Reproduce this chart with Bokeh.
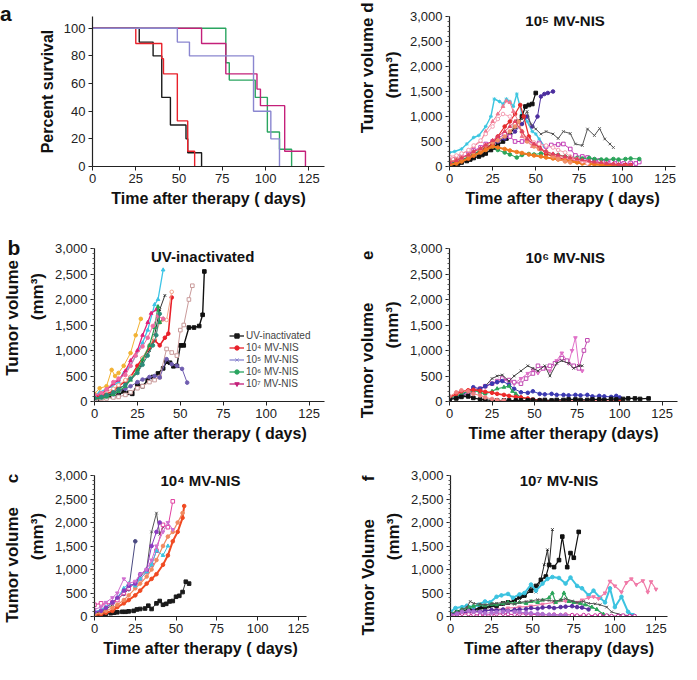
import math
from bokeh.plotting import figure
from bokeh.layouts import column, row
from bokeh.models import (Range1d, FixedTicker, NumeralTickFormatter, Label,
                          Legend, LegendItem, ColumnDataSource)
from bokeh.embed import file_html
from bokeh.resources import INLINE

FONT = "Liberation Sans"

# ---------------- panel a : survival ----------------
surv_groups = ["UV-inactivated", "10⁴ MV-NIS", "10⁵ MV-NIS", "10⁶ MV-NIS", "10⁷ MV-NIS"]
surv_colors = ["#1a1a1a", "#e8202a", "#8a86d0", "#2aa560", "#c4207a"]
surv_days = [
    [0, 27, 35, 40, 45, 54, 55, 63],
    [0, 25, 40, 41, 49, 55, 59],
    [0, 49, 56, 93, 103, 108],
    [0, 77, 79, 94, 101, 108, 115],
    [0, 63, 77, 95, 97, 111, 123],
]
surv_pct = [
    [100, 90, 80, 50, 30, 20, 10, 0],
    [100, 89, 78, 67, 33, 11, 0],
    [100, 90, 80, 40, 20, 0],
    [100, 75, 62.5, 50, 25, 12.5, 0],
    [100, 89, 67, 56, 44, 11, 0],
]
surv_order = [0, 1, 3, 4, 2]

# ---------------- panel b : UV-inactivated ----------------
b_days = [
    [0, 3, 7, 10, 14, 17, 20, 22, 25, 28, 31, 34, 37, 40, 42, 44, 46, 48, 50, 52, 55, 58, 61, 63, 64],
    [0, 3, 7, 10, 14, 17, 21, 24, 28, 31, 35, 37, 40],
    [0, 4, 7, 11, 14, 18, 21, 25, 28, 32, 35, 38, 41],
    [0, 4, 7, 11, 14, 18, 21, 25, 28, 32, 35, 38, 41, 43, 45],
    [0, 4, 7, 11, 14, 18, 21, 25, 28, 32, 35, 38, 42, 45],
    [0, 3, 7, 10, 12, 14, 17, 21, 24, 27],
    [0, 4, 7, 11, 14, 18, 21, 25, 28, 32, 35, 38, 42, 45, 48, 50, 52, 55, 57],
    [0, 4, 7, 11, 14, 18, 21, 25, 28, 32, 35, 38, 42, 45, 48, 51, 54],
    [0, 4, 7, 11, 14, 18, 21, 25, 28, 31, 33, 36],
    [0, 4, 7, 11, 14, 18, 21, 25, 28, 32, 35, 37, 38, 40],
    [0, 4, 7, 11, 14, 18, 21, 24, 28, 31, 34, 37, 40],
    [0, 4, 7, 11, 14, 18, 21, 25, 28, 31, 34, 36, 38],
]
b_vols = [
    [50, 60, 80, 110, 120, 200, 170, 150, 330, 300, 420, 480, 550, 650, 780, 760, 690, 700, 1100, 1100, 1450, 1450, 1480, 1700, 2550],
    [120, 180, 250, 300, 380, 550, 700, 900, 1150, 1400, 1900, 2000, 2580],
    [60, 90, 110, 160, 250, 330, 420, 560, 780, 1000, 1300, 1800, 2080],
    [80, 110, 150, 200, 300, 400, 480, 700, 850, 1050, 1200, 1100, 1250, 1330, 2040],
    [100, 150, 200, 250, 320, 420, 480, 600, 850, 1100, 1250, 1550, 1600, 2150],
    [150, 260, 300, 620, 500, 560, 700, 950, 1300, 1620],
    [40, 50, 60, 80, 90, 130, 180, 260, 300, 380, 420, 480, 1030, 960, 900, 1400, 1500, 2000, 2270],
    [60, 80, 100, 140, 200, 250, 300, 380, 430, 480, 500, 470, 830, 730, 700, 640, 370],
    [100, 150, 230, 350, 420, 600, 800, 1000, 1300, 1550, 1730, 1800],
    [60, 70, 90, 140, 200, 300, 420, 620, 820, 1100, 1450, 1860, 1550, 1620],
    [130, 160, 240, 380, 450, 520, 700, 900, 1080, 1250, 1480, 1680, 1620],
    [70, 90, 130, 180, 240, 330, 450, 560, 720, 900, 1100, 1300, 1720],
]
b_colors = ["#111111", "#3cc4e6", "#333333", "#e8202a", "#f2a58a", "#f2b233",
            "#c99a9a", "#6f5db0", "#e0207a", "#22a050", "#f06aa0", "#2a8c7a"]
b_markers = ["sq", "tri", "x", "ci", "oci", "ci", "osq", "ci", "tri", "tri", "ci", "ci"]
b_widths = [1.4, 1.3, 1.0, 1.6, 1.0, 1.0, 1.0, 1.0, 1.3, 1.2, 1.0, 1.0]

# ---------------- panel c : 10^4 MV-NIS ----------------
c_days = [
    [0, 3, 5, 7, 10, 12, 14, 17, 19, 21, 24, 26, 28, 31, 33, 35, 38, 40, 42, 44, 46, 48, 50, 52, 54, 56, 58],
    [0, 4, 7, 11, 14, 18, 21, 25],
    [0, 4, 7, 11, 14, 18, 21, 25, 28, 32, 35, 38, 40, 42],
    [0, 4, 7, 11, 14, 18, 21, 25, 28, 32, 35, 38, 42, 45, 48],
    [0, 4, 7, 11, 14, 18, 21, 25, 28, 32, 35, 38, 42, 45, 48, 51, 54, 55],
    [0, 4, 7, 11, 14, 18, 21, 25, 28, 32, 35, 38, 42, 45, 48, 51, 54],
    [0, 4, 7, 11, 14, 18, 21, 25, 28, 32, 35, 38, 42, 45],
    [0, 4, 7, 11, 14, 18, 21, 25, 28, 32, 35, 38, 40],
    [0, 4, 7, 11, 14, 18, 21, 25, 28, 32, 35, 38, 42, 45, 48],
]
c_vols = [
    [40, 50, 60, 60, 70, 80, 90, 100, 100, 110, 120, 150, 160, 170, 230, 160, 280, 330, 250, 270, 320, 330, 420, 440, 520, 740, 700],
    [80, 130, 180, 300, 380, 480, 580, 1600],
    [60, 100, 150, 250, 350, 500, 650, 700, 850, 1000, 1800, 2200, 1750, 1900],
    [250, 280, 250, 300, 350, 500, 600, 700, 800, 950, 1100, 1400, 1950, 1900, 2450],
    [30, 50, 80, 120, 200, 280, 350, 450, 550, 700, 800, 900, 1100, 1300, 1600, 1800, 2100, 2350],
    [50, 80, 120, 180, 250, 350, 450, 600, 700, 850, 1000, 1200, 1500, 1700, 1800, 2000, 2200],
    [100, 150, 200, 300, 400, 600, 700, 650, 800, 950, 1100, 1400, 1300, 1500],
    [100, 120, 180, 300, 400, 550, 650, 700, 900, 1000, 1500, 1800, 2000],
    [150, 200, 300, 400, 500, 800, 700, 750, 900, 1000, 1200, 1500, 1800, 2000, 1850],
]
c_colors = ["#1a1a1a", "#4a4a80", "#555555", "#e040a0", "#f04a22", "#f08a60",
            "#3cc4e0", "#8a3ac0", "#d070d0"]
c_markers = ["sq", "ci", "x", "osq", "ci", "ci", "tri", "ci", "itri"]
c_widths = [0.9, 1.0, 1.0, 1.0, 2.0, 1.2, 1.0, 1.0, 1.0]

# ---------------- panel d : 10^5 MV-NIS ----------------
d_days = [
    [0, 3, 7, 10, 14, 17, 21, 24, 26, 29, 31, 33, 35, 37, 39, 42, 45, 48, 50, 52, 55],
    [0, 3, 5, 7, 10, 12, 14, 17, 19, 21, 24, 26, 28, 31, 33, 35, 38, 40, 42, 44, 46, 48, 50],
    [0, 4, 7, 11, 14, 18, 21, 25, 28, 32, 35, 38, 42, 45, 48, 51, 53, 55, 57, 60],
    [0, 4, 7, 11, 14, 18, 21, 25, 28, 32, 35, 38, 42, 45, 47, 50, 53, 56, 60, 63, 66, 70, 73, 77, 80, 84, 87, 90, 93, 95],
    [0, 4, 7, 11, 14, 18, 21, 25, 28, 32, 35, 38, 42, 45, 49, 52, 56, 59, 63, 66, 70, 73, 77, 80, 84, 87, 91, 94, 98, 101, 105, 108, 110],
    [0, 4, 7, 11, 14, 18, 21, 25, 28, 32, 35, 39, 42, 46, 49, 53, 56, 60, 63, 67, 70, 74, 77, 81, 84, 88, 91, 95, 98, 102, 105, 110],
    [0, 4, 7, 11, 14, 18, 21, 25, 28, 32, 35, 38, 41, 43, 46, 49, 52, 56, 60, 63, 67, 70, 74, 77, 81, 84, 88, 91, 95, 98, 102, 105],
    [0, 4, 7, 11, 14, 18, 21, 25, 28, 31, 33, 35, 37, 40, 42, 45, 48, 52, 56, 60, 63, 67, 70, 74, 77, 81, 84, 88],
    [0, 4, 7, 11, 14, 18, 21, 25, 28, 32, 35, 39, 42, 46, 49, 53, 56, 60, 63, 67, 70, 74, 77, 81, 84, 88, 91, 95, 98, 102],
    [0, 4, 7, 11, 14, 18, 21, 25, 28, 31, 35, 38, 42, 45, 49, 52, 56, 60, 63, 67, 70, 74, 77, 80],
    [0, 4, 7, 11, 14, 18, 21, 25, 28, 32, 35, 38, 40, 42, 45, 49, 52, 56, 60, 63, 67, 70],
    [0, 4, 7, 11, 14, 18, 21, 25, 28, 32, 35, 38, 42, 45, 49, 53, 56, 60, 63, 67, 70, 74, 77, 81, 84, 88, 91, 95, 98, 101, 105],
]
d_vols = [
    [280, 300, 350, 450, 580, 620, 800, 1000, 1350, 1300, 1250, 1350, 1300, 1200, 1450, 1050, 900, 700, 650, 550, 400],
    [20, 40, 60, 80, 110, 140, 170, 200, 230, 260, 330, 380, 430, 500, 560, 640, 800, 900, 1000, 1200, 1230, 1250, 1470],
    [50, 80, 120, 180, 250, 320, 380, 440, 500, 560, 600, 700, 850, 1000, 800, 1000, 1400, 1450, 1470, 1500],
    [60, 90, 130, 180, 240, 310, 380, 450, 520, 600, 700, 800, 950, 1100, 850, 750, 650, 700, 650, 560, 700, 660, 450, 420, 750, 620, 760, 550, 450, 380],
    [100, 130, 180, 250, 320, 380, 450, 500, 560, 650, 600, 500, 500, 520, 450, 470, 400, 430, 440, 450, 350, 220, 200, 180, 130, 120, 110, 100, 90, 60, 70, 60, 90],
    [50, 90, 130, 200, 260, 320, 370, 400, 330, 280, 240, 180, 230, 250, 240, 260, 250, 240, 230, 200, 190, 170, 160, 170, 150, 140, 140, 150, 140, 150, 160, 150],
    [40, 70, 110, 160, 220, 290, 360, 450, 600, 800, 900, 1050, 1230, 1000, 600, 450, 400, 250, 200, 180, 140, 120, 110, 100, 80, 60, 50, 40, 40, 30, 30, 30],
    [150, 200, 250, 320, 400, 500, 700, 900, 1050, 1200, 1310, 1280, 1100, 900, 600, 500, 400, 350, 300, 250, 200, 180, 150, 120, 100, 80, 60, 50],
    [30, 60, 100, 160, 220, 280, 330, 400, 380, 350, 320, 290, 270, 240, 220, 200, 180, 160, 140, 120, 100, 80, 60, 50, 40, 30, 20, 20, 10, 10],
    [200, 220, 260, 330, 420, 520, 650, 800, 950, 1050, 1000, 850, 700, 550, 480, 450, 420, 380, 330, 280, 200, 150, 100, 60],
    [100, 130, 170, 230, 290, 350, 420, 480, 520, 600, 700, 800, 900, 700, 500, 400, 350, 300, 200, 150, 100, 80],
    [80, 120, 170, 230, 300, 360, 430, 520, 600, 700, 800, 900, 700, 550, 450, 350, 300, 250, 230, 200, 180, 150, 130, 110, 90, 80, 60, 50, 40, 30, 30],
]
d_colors = ["#3cc6e0", "#111111", "#4b2d9e", "#555555", "#c23ab4", "#2aa55a",
            "#e52a2a", "#f07890", "#f07a22", "#f5a0b4", "#f0906a", "#e04060"]
d_markers = ["star", "sq", "ci", "x", "osq", "ci", "ci", "tri", "ci", "oci", "ci", "tri"]
d_widths = [1.4, 1.2, 1.0, 1.0, 1.0, 1.0, 1.2, 1.0, 2.0, 1.0, 1.0, 1.0]

# ---------------- panel e : 10^6 MV-NIS ----------------
e_days = [
    [0, 4, 7, 11, 14, 18, 21, 25, 28, 32, 35, 38, 42, 46, 49, 52, 56, 59, 63, 66, 70, 72, 74, 76, 78],
    [0, 4, 7, 11, 14, 18, 21, 25, 28, 31, 35, 38, 42, 45, 49, 52, 55, 59, 62, 66, 69, 73, 76, 79, 81],
    [0, 4, 7, 11, 14, 18, 21, 25, 28, 31, 35, 38, 42, 46, 49, 52, 56, 59, 63, 66, 70, 73, 76, 78],
    [0, 4, 7, 11, 14, 18, 21, 25, 28, 31, 35, 38, 42, 46, 49, 53, 56, 60, 63, 67, 70, 74, 77, 81, 84, 88, 91, 95, 98, 100],
    [0, 4, 7, 11, 14, 18, 21, 25, 28, 32, 35, 37, 39, 42, 46, 49, 53, 56, 60],
    [0, 4, 7, 11, 14, 18, 21, 25, 28, 32, 35, 39, 42, 46, 49, 53, 56, 60, 63, 67, 70, 74, 77, 81, 84, 88, 91, 95, 98, 100],
    [0, 4, 7, 11, 14, 18, 21, 25, 28, 32, 35, 39, 42, 46, 49, 53, 56, 60, 63, 67, 70, 74, 77, 81, 84, 88, 91, 95, 98, 102, 105, 109, 112, 117],
    [0, 4, 7, 11, 14, 18, 21, 25, 28, 32],
]
e_vols = [
    [60, 100, 150, 200, 230, 260, 300, 350, 380, 420, 400, 350, 450, 550, 620, 560, 650, 600, 800, 950, 750, 1000, 1250, 700, 600],
    [50, 80, 120, 160, 200, 250, 300, 350, 400, 450, 420, 380, 350, 450, 550, 700, 650, 700, 750, 850, 800, 700, 650, 1000, 1200],
    [40, 70, 100, 140, 200, 250, 300, 450, 500, 520, 400, 500, 600, 700, 650, 600, 700, 500, 750, 800, 750, 650, 700, 700],
    [50, 80, 120, 200, 280, 250, 300, 350, 380, 400, 330, 250, 180, 170, 200, 150, 140, 150, 130, 130, 120, 130, 120, 130, 100, 110, 100, 90, 110, 80],
    [70, 100, 150, 200, 220, 180, 150, 200, 250, 280, 300, 200, 150, 80, 50, 30, 20, 10, 10],
    [80, 150, 200, 220, 230, 210, 190, 170, 150, 130, 110, 90, 80, 60, 40, 30, 20, 10, 10, 5, 5, 5, 5, 5, 5, 5, 5, 5, 5, 5],
    [40, 60, 90, 100, 70, 40, 30, 20, 20, 20, 20, 20, 20, 20, 30, 20, 30, 20, 30, 30, 40, 40, 30, 30, 40, 40, 30, 50, 40, 50, 60, 60, 50, 60],
    [100, 180, 220, 200, 150, 120, 80, 50, 30, 20],
]
e_colors = ["#e070c8", "#c047b0", "#444444", "#3a38b0", "#2aa55a", "#ee2a2a", "#111111", "#f08080"]
e_markers = ["itri", "osq", "x", "ci", "tri", "ci", "sq", "ci"]
e_widths = [1.0, 1.0, 1.0, 1.0, 1.2, 1.6, 1.2, 1.0]

# ---------------- panel f : 10^7 MV-NIS ----------------
f_days = [
    [0, 3, 7, 10, 14, 17, 21, 24, 28, 31, 35, 38, 42, 45, 49, 52, 55, 57, 59, 60, 62],
    [0, 4, 7, 11, 14, 18, 21, 25, 28, 32, 35, 39, 42, 45, 49, 52, 55, 58, 60, 63, 66, 68, 71, 73, 75, 78],
    [0, 3, 7, 10, 14, 17, 21, 24, 28, 31, 35, 38, 42, 45, 49, 52, 56, 59, 62, 66, 70, 73, 77, 80, 84, 87, 91, 94, 97, 100, 104, 108, 111],
    [0, 7, 14, 21, 28, 35, 42, 49, 56, 63, 70, 77, 80, 84, 87, 90, 94, 97, 100, 104, 107, 110, 113, 117, 120, 122, 125],
    [0, 4, 7, 11, 14, 18, 21, 25, 28, 32, 35, 39, 42, 46, 49, 53, 56, 60, 62, 64, 67, 69, 72, 75, 79, 82, 86, 89, 93, 96],
    [0, 4, 7, 10, 12, 14, 18, 21, 25, 28, 32, 35, 39, 42, 46, 49, 53, 56, 60, 63, 67, 70, 74, 77, 81, 84, 88, 91, 95, 98, 102, 105, 109, 112],
    [0, 4, 7, 11, 14, 18, 21, 25, 28, 32, 35, 39, 42, 46, 49, 53, 56, 60, 63, 67, 70, 74, 77, 80, 84],
    [0, 4, 7, 11, 14, 18, 21, 25, 28, 32, 35, 39, 42, 46, 49, 53, 56, 60, 63, 67, 70, 74, 77, 81, 84, 88, 91, 95, 98, 102, 105, 109, 112],
    [0, 4, 7, 11, 14, 18, 21, 25, 28, 32, 35, 39, 42, 46, 49, 53, 56, 60, 63, 67, 70],
]
f_vols = [
    [50, 80, 120, 100, 130, 150, 180, 200, 220, 250, 280, 330, 380, 420, 640, 520, 790, 1100, 1420, 1070, 1850],
    [60, 90, 120, 150, 130, 200, 180, 250, 230, 280, 300, 350, 420, 450, 550, 650, 780, 850, 1100, 1050, 1200, 1700, 1050, 1350, 1250, 1800],
    [100, 180, 200, 230, 200, 250, 320, 300, 420, 450, 480, 400, 470, 500, 680, 550, 700, 800, 840, 820, 700, 830, 650, 600, 450, 550, 400, 300, 600, 200, 420, 100, 30],
    [60, 80, 100, 120, 150, 180, 200, 220, 260, 300, 330, 300, 350, 400, 420, 380, 500, 750, 650, 520, 720, 800, 680, 760, 520, 740, 580],
    [60, 100, 150, 200, 220, 250, 230, 260, 250, 280, 300, 280, 300, 280, 320, 300, 350, 400, 500, 300, 350, 500, 320, 300, 280, 250, 200, 150, 50, 10],
    [50, 80, 150, 200, 320, 280, 260, 250, 270, 280, 300, 280, 260, 300, 320, 330, 360, 350, 340, 330, 350, 380, 330, 300, 320, 280, 270, 250, 200, 100, 50, 30, 20, 10],
    [40, 60, 80, 100, 120, 100, 120, 140, 130, 150, 120, 140, 150, 160, 180, 170, 190, 200, 180, 200, 210, 220, 200, 190, 150],
    [20, 40, 60, 50, 40, 30, 30, 40, 50, 60, 50, 40, 50, 60, 50, 40, 40, 30, 40, 30, 40, 30, 20, 30, 20, 20, 30, 20, 10, 10, 20, 10, 10],
    [30, 60, 100, 120, 100, 90, 70, 80, 90, 100, 110, 100, 90, 80, 70, 60, 50, 40, 30, 30, 20],
]
f_colors = ["#222222", "#111111", "#3cc3e0", "#f07aa8", "#2aa55a", "#555555", "#5a2ea0", "#c8289a", "#b070d0"]
f_markers = ["x", "sq", "ci", "itri", "tri", "x", "ci", "oci", "ci"]
f_widths = [1.0, 1.2, 2.0, 1.2, 1.2, 1.0, 1.2, 1.0, 1.0]

legend_labels = surv_groups
legend_colors = surv_colors
legend_markers = ["sq", "ci", "x", "ci", "itri"]

x_ticks = [0, 25, 50, 75, 100, 125]
vol_ticks = [0, 500, 1000, 1500, 2000, 2500, 3000]
pct_ticks = [0, 20, 40, 60, 80, 100]

MARKER_MAP = {"sq": ("square", True), "osq": ("square", False), "ci": ("circle", True),
              "oci": ("circle", False), "tri": ("triangle", True), "itri": ("inverted_triangle", True),
              "x": ("x", True), "star": ("asterisk", True)}

NB = "\u00a0"


def ylab(pad1, pad2, letter="", gap=0, trail=0, word="Tumor volume"):
    return (NB * pad1 + word + NB * gap + letter + NB * trail + "\n" + NB * pad2 + "(mm³)")


def make_fig(width, height, bl, br, bt, bb, xmax, ymax, yticks, ylabel, minor, xlabel):
    p = figure(width=width, height=height, output_backend="svg", toolbar_location=None,
               x_range=Range1d(0, xmax), y_range=Range1d(0, ymax),
               min_border_left=bl, min_border_right=br, min_border_top=bt, min_border_bottom=bb)
    p.outline_line_color = None
    p.xgrid.visible = False
    p.ygrid.visible = False
    p.xaxis.ticker = FixedTicker(ticks=x_ticks)
    if minor:
        p.yaxis.ticker = FixedTicker(ticks=yticks, minor_ticks=list(range(0, 3001, 100)))
        p.yaxis.formatter = NumeralTickFormatter(format="0,0")
    else:
        p.yaxis.ticker = FixedTicker(ticks=yticks)
    for ax in (p.xaxis[0], p.yaxis[0]):
        ax.axis_line_color = "#222222"
        ax.axis_line_width = 1.2
        ax.major_tick_line_color = "#222222"
        ax.major_tick_in = 0
        ax.major_tick_out = 4
        ax.minor_tick_in = 0
        ax.minor_tick_out = 2
        ax.minor_tick_line_color = "#555555"
        ax.major_label_text_font = FONT
        ax.major_label_text_font_size = "13px"
        ax.major_label_text_color = "#222222"
        ax.major_label_standoff = 3
        ax.axis_label_text_font = FONT
        ax.axis_label_text_font_style = "bold"
        ax.axis_label_text_color = "#111111"
    p.xaxis.minor_tick_line_color = None
    if not minor:
        p.yaxis.minor_tick_line_color = None
    p.xaxis.axis_label = xlabel
    p.xaxis.axis_label_text_font_size = "16px"
    p.xaxis.axis_label_standoff = 4
    p.yaxis.axis_label = ylabel
    p.yaxis.axis_label_text_font_size = "17px" if minor else "16px"
    p.yaxis.axis_label_text_line_height = 1.3
    p.yaxis.axis_label_standoff = 5
    return p


def add_letter(p, txt, x, y, side):
    p.add_layout(Label(x=x, y=y, text=txt, text_font=FONT, text_font_style="bold",
                       text_font_size="21px", text_align="center", text_baseline="middle",
                       text_color="#111111"), side)


def add_title(p, txt, x, y):
    p.add_layout(Label(x=x, y=y, text=txt, text_font=FONT, text_font_style="bold",
                       text_font_size="15px", text_align="center", text_baseline="middle",
                       text_color="#111111"))


def draw_series(p, days, vols, colors, markers, widths):
    for d, v, c, m, w in zip(days, vols, colors, markers, widths):
        src = ColumnDataSource(dict(x=d, y=v))
        p.line("x", "y", source=src, line_color=c, line_width=w)
        mk, filled = MARKER_MAP[m]
        p.scatter("x", "y", source=src, marker=mk, size=3.6, line_color=c,
                  fill_color=(c if filled else "white"), line_width=1)


XL1 = "Time after therapy ( days)"
XL2 = "Time after therapy (days)"

# panel a
pa = make_fig(342, 216, 92, 18, 13, 50, 134, 108.5, pct_ticks, "Percent survival", False, XL1)
for i in surv_order:
    pa.step(surv_days[i], surv_pct[i], mode="after", line_color=surv_colors[i], line_width=1.4)
add_letter(pa, "a", -50, 111, "left")

# panel b
pb = make_fig(342, 232, 92, 18, 31, 47, 134, 3000, vol_ticks, ylab(3, 12), True, XL1)
draw_series(pb, b_days, b_vols, b_colors, b_markers, b_widths)
add_title(pb, "UV-inactivated", 63, 2840)
add_letter(pb, "b", -47, 3010, "above")
items = []
nan = float("nan")
for lab, col, m in zip(legend_labels, legend_colors, legend_markers):
    src = ColumnDataSource(dict(x=[nan], y=[nan]))
    r1 = pb.line("x", "y", source=src, line_color=col, line_width=1.3)
    mk, filled = MARKER_MAP[m]
    r2 = pb.scatter("x", "y", source=src, marker=mk, size=3.4, line_color=col, fill_color=col)
    items.append(LegendItem(label=lab, renderers=[r1, r2]))
leg = Legend(items=items, location=(135, 12), label_text_font=FONT, label_text_font_size="10px",
             glyph_width=15, glyph_height=11, label_height=11, spacing=1, padding=0, margin=0,
             label_standoff=2, border_line_color=None, background_fill_alpha=0)
pb.add_layout(leg)

# panel c  (panel letter written as part of the rotated axis title, as in the original)
pc = make_fig(342, 216, 92, 36, 27, 48, 130, 3000, vol_ticks, ylab(0, 4, "c", 5, 1), True, XL1)
draw_series(pc, c_days, c_vols, c_colors, c_markers, c_widths)
add_title(pc, "10⁴ MV-NIS", 65, 2890)

# panel d
pd_ = make_fig(339, 216, 107, 6, 16, 50, 131, 3000, vol_ticks, ylab(10, 7, "d", 1), True, XL1)
draw_series(pd_, d_days, d_vols, d_colors, d_markers, d_widths)
add_title(pd_, "10⁵ MV-NIS", 67, 2930)

# panel e
pe = make_fig(339, 232, 107, 4, 32, 47, 134, 3000, vol_ticks, ylab(0, 0, "e", 9, 4), True, XL2)
draw_series(pe, e_days, e_vols, e_colors, e_markers, e_widths)
add_title(pe, "10⁶ MV-NIS", 68, 2820)

# panel f
pf = make_fig(339, 216, 108, 14, 26, 48, 132, 3000, vol_ticks,
              ylab(0, 4, "f", 8, 4, "Tumor Volume"), True, XL2)
draw_series(pf, f_days, f_vols, f_colors, f_markers, f_widths)
add_title(pf, "10⁷ MV-NIS", 66, 2900)

layout = column(row(pa, pd_), row(pb, pe), row(pc, pf))
open("out.html", "w").write(file_html(layout, INLINE))
